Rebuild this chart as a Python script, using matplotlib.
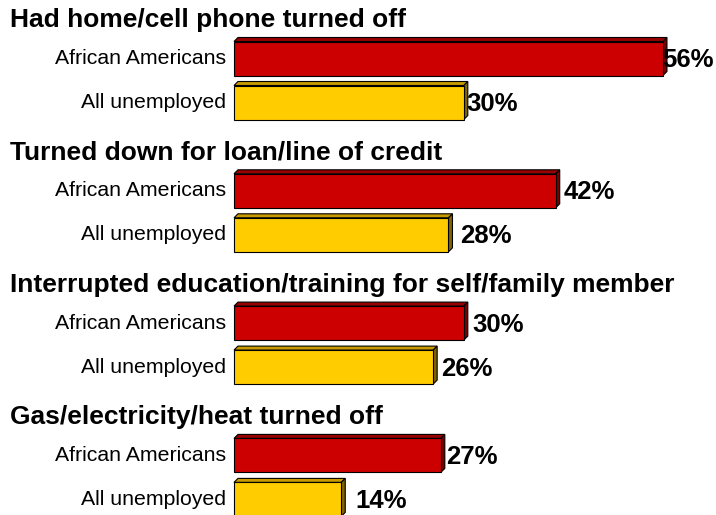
import matplotlib
matplotlib.use('Agg')
import matplotlib.pyplot as plt
from matplotlib.patches import Polygon

# Data
titles = [
    'Had home/cell phone turned off',
    'Turned down for loan/line of credit',
    'Interrupted education/training for self/family member',
    'Gas/electricity/heat turned off',
]
groups = ['African Americans', 'All unemployed']
african_americans = [56, 42, 30, 27]
all_unemployed = [30, 28, 26, 14]

# Layout (figure pixel units, y downward)
W, H = 716, 515
x0_px = 234          # where 0% sits
px_per_pct = 7.66
group_pitch = 132.3
first_center = 58.5
pair_gap = 44
bar_h = 34
depth_px = 4
# small nudges of the value labels (in %), the original places them unevenly
label_nudge = [[-0.05, 0.3], [1.0, 1.5], [1.1, 1.1], [0.7, 1.8]]

face = {'African Americans': '#CC0000', 'All unemployed': '#FFCC00'}
side = {'African Americans': '#770000', 'All unemployed': '#806400'}
top = {'African Americans': '#990000', 'All unemployed': '#C89A00'}

plt.rcParams['font.family'] = ['Liberation Sans', 'DejaVu Sans']

fig = plt.figure(figsize=(W / 100, H / 100), dpi=100)
ax = fig.add_axes([0, 0, 1, 1])
ax.set_xlim(-x0_px / px_per_pct, (W - x0_px) / px_per_pct)
ax.set_ylim(H, 0)
ax.axis('off')

dx = depth_px / px_per_pct
dy = depth_px


def bar3d(yc, val, g):
    y_top = yc - bar_h / 2
    y_bot = yc + bar_h / 2
    ax.barh(yc, val, height=bar_h, left=0, color=face[g],
            edgecolor='black', linewidth=0.8, zorder=3)
    # top face
    ax.add_patch(Polygon([(0, y_top), (val, y_top), (val + dx, y_top - dy),
                          (dx, y_top - dy)], closed=True, facecolor=top[g],
                         edgecolor='black', linewidth=0.8, zorder=2))
    # side face
    ax.add_patch(Polygon([(val, y_top), (val + dx, y_top - dy),
                          (val + dx, y_bot - dy), (val, y_bot)], closed=True,
                         facecolor=side[g], edgecolor='black', linewidth=0.8,
                         zorder=2))


for i, t in enumerate(titles):
    yc = first_center + group_pitch * i
    ax.text(-x0_px / px_per_pct + 10 / px_per_pct, yc - 31.5, t,
            fontsize=19, fontweight='bold', ha='left', va='baseline')
    vals = [african_americans[i], all_unemployed[i]]
    for j, g in enumerate(groups):
        c = yc + pair_gap * j
        bar3d(c, vals[j], g)
        ax.text(-8 / px_per_pct, c + 5.5, g, fontsize=15.3,
                ha='right', va='baseline')
        ax.text(vals[j] + label_nudge[i][j], c + 8.5, f'{vals[j]}%',
                fontsize=18.5, fontweight='bold', ha='left', va='baseline')

fig.savefig('out.png', dpi=100)
